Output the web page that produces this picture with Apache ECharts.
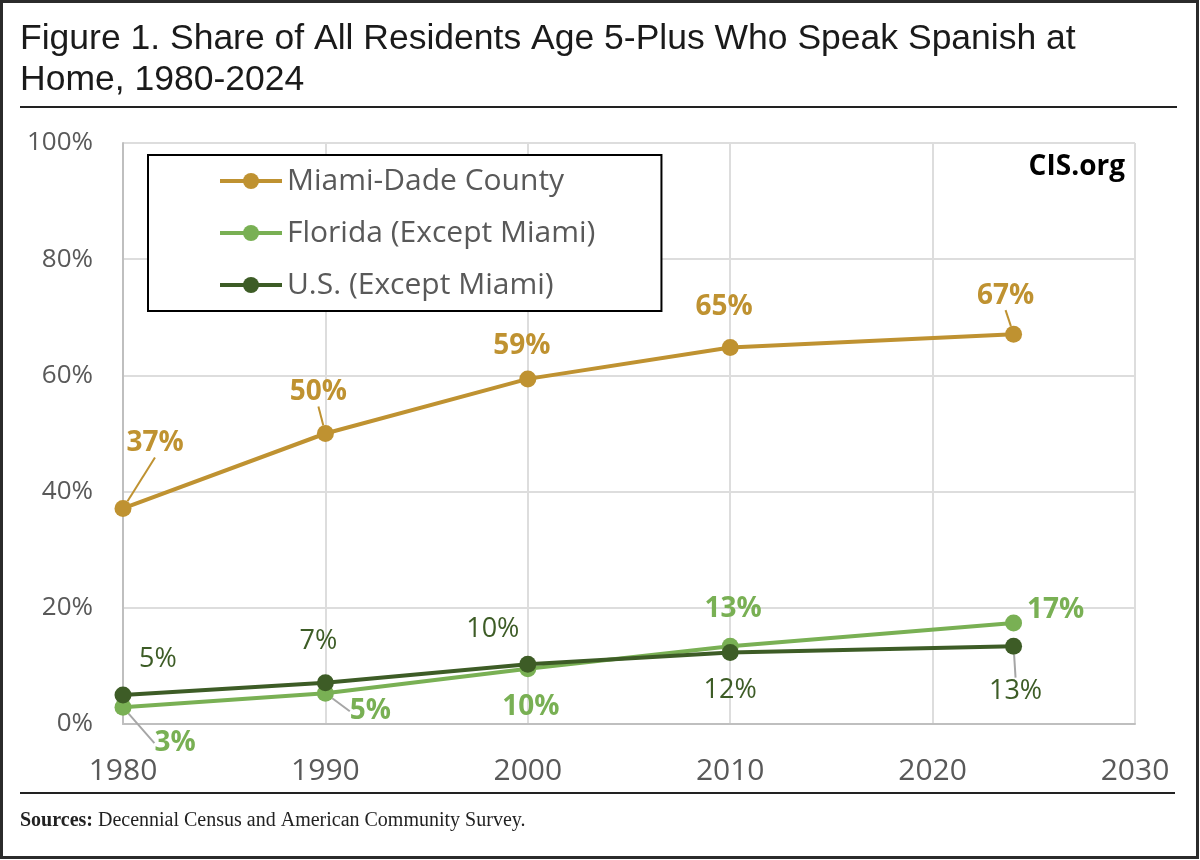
<!DOCTYPE html>
<html>
<head>
<meta charset="utf-8">
<script src="https://cdn.jsdelivr.net/npm/echarts@6/dist/echarts.min.js"></script>
<style>
  html, body { margin: 0; padding: 0; background: #fff; }
  #chart { width: 1200px; height: 860px; }
</style>
</head>
<body>
<div id="chart"></div>
<script>
// data
const years = [1980, 1990, 2000, 2010, 2024]
const miami = [37.1, 50.0, 59.4, 64.8, 67.1]
const florida = [2.9, 5.3, 9.5, 13.4, 17.4]
const usExMiami = [5.0, 7.1, 10.3, 12.3, 13.4]
const seriesNames = ['Miami-Dade County', 'Florida (Except Miami)', 'U.S. (Except Miami)']
const yTicks = [0, 20, 40, 60, 80, 100]

const GOLD = '#BF9231'
const LIGHT = '#79B054'
const DARK = '#3D5C26'
const GREY_TXT = '#595959'
const FONT = '"Open Sans", "Noto Sans", sans-serif'

// label placement (offset from the point) and leader lines, like the Excel original
const labelOffsets = [
  [[32, -65], [-7, -41], [-6, -33], [-6, -40], [-8, -38]],
  [[52, 36], [45, 18], [3, 38], [3, -37], [42, -13]],
  [[35, -36], [-7, -41], [-35, -35], [0, 38], [2, 45]]
]
const leaders = [
  [true, true, false, false, true],
  [true, true, false, false, false],
  [false, false, false, false, true]
]

function buildData (values, si, leaderColor) {
  let out = []
  for (let i = 0; i < values.length; i++) {
    out.push({
      value: [years[i], values[i]],
      labelLine: {
        show: leaders[si][i],
        lineStyle: { color: leaderColor, width: 2 }
      }
    })
  }
  return out
}

function makeSeries (name, values, si, color, labelColor, bold, leaderColor) {
  return {
    name: name,
    type: 'line',
    data: buildData(values, si, leaderColor),
    symbol: 'circle',
    symbolSize: 17,
    itemStyle: { color: color },
    lineStyle: { color: color, width: 4 },
    z: 2 + si,
    label: {
      show: true,
      position: 'inside',
      formatter: p => Math.round(p.value[1]) + '%',
      color: labelColor,
      fontFamily: FONT,
      fontSize: bold ? 28 : 27,
      fontWeight: bold ? 'bold' : 'normal'
    },
    labelLine: { show: false, smooth: false },
    labelLayout: p => ({
      dx: labelOffsets[si][p.dataIndex][0],
      dy: labelOffsets[si][p.dataIndex][1]
    })
  }
}

const chart = echarts.init(document.getElementById('chart'))

chart.setOption({
  animation: false,
  backgroundColor: '#fff',
  grid: { left: 123, right: 65, top: 143, bottom: 136 },
  legend: {
    data: seriesNames,
    orient: 'vertical',
    left: 148,
    top: 155,
    itemWidth: 62,
    itemHeight: 20,
    itemGap: 22,
    padding: [11, 66, 11, 70],
    borderColor: '#000',
    borderWidth: 2,
    backgroundColor: '#fff',
    lineStyle: { width: 4 },
    textStyle: { color: GREY_TXT, fontFamily: FONT, fontSize: 30, padding: [0, 0, 0, 0] }
  },
  xAxis: {
    type: 'value',
    min: 1980,
    max: 2030,
    interval: 10,
    axisLine: { show: true, onZero: false, lineStyle: { color: '#BFBFBF', width: 2 } },
    axisTick: { show: false },
    splitLine: { show: true, lineStyle: { color: '#DDDDDD', width: 2 } },
    axisLabel: {
      color: GREY_TXT,
      fontFamily: FONT,
      fontSize: 30,
      margin: 32,
      formatter: v => String(v)
    }
  },
  yAxis: {
    type: 'value',
    min: yTicks[0],
    max: yTicks[yTicks.length - 1],
    interval: 20,
    axisLine: { show: true, lineStyle: { color: '#BFBFBF', width: 2 } },
    axisTick: { show: false },
    splitLine: { show: true, lineStyle: { color: '#DDDDDD', width: 2 } },
    axisLabel: {
      color: GREY_TXT,
      fontFamily: FONT,
      fontSize: 26,
      margin: 30,
      formatter: '{value}%'
    }
  },
  series: [
    makeSeries(seriesNames[0], miami, 0, GOLD, GOLD, true, GOLD),
    makeSeries(seriesNames[1], florida, 1, LIGHT, LIGHT, true, '#A6A6A6'),
    makeSeries(seriesNames[2], usExMiami, 2, DARK, DARK, false, '#A6A6A6')
  ],
  graphic: [
    {
      type: 'rect',
      shape: { x: 1.5, y: 1.5, width: 1196, height: 856 },
      style: { fill: 'none', stroke: '#2b2b2b', lineWidth: 3 },
      silent: true
    },
    {
      type: 'text',
      left: 20,
      top: 19,
      style: {
        text: 'Figure 1. Share of All Residents Age 5-Plus Who Speak Spanish at\nHome, 1980-2024',
        font: '35.5px "Liberation Sans", Arial, sans-serif',
        fill: '#1a1a1a',
        lineHeight: 41
      }
    },
    {
      type: 'line',
      shape: { x1: 20, y1: 107, x2: 1177, y2: 107 },
      style: { stroke: '#222', lineWidth: 2 }
    },
    {
      type: 'line',
      shape: { x1: 20, y1: 793, x2: 1175, y2: 793 },
      style: { stroke: '#222', lineWidth: 2 }
    },
    {
      type: 'text',
      left: 20,
      top: 811,
      style: {
        text: '{b|Sources:} Decennial Census and American Community Survey.',
        font: '20px "Liberation Serif", "DejaVu Serif", serif',
        fill: '#222',
        rich: {
          b: { font: 'bold 20px "Liberation Serif", "DejaVu Serif", serif', fill: '#222' }
        }
      }
    },
    {
      type: 'text',
      right: 75,
      top: 153,
      style: {
        text: 'CIS.org',
        font: 'bold 28px "Open Sans", "Noto Sans", sans-serif',
        fill: '#000'
      }
    }
  ]
})
</script>
</body>
</html>
